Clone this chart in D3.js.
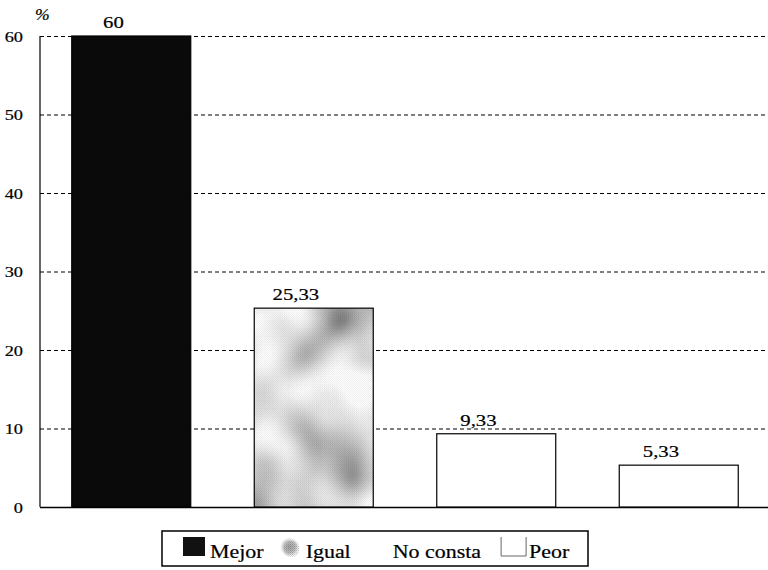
<!DOCTYPE html>
<html>
<head>
<meta charset="utf-8">
<script src="https://cdn.jsdelivr.net/npm/d3@7"></script>
<style>
  html, body { margin: 0; padding: 0; background: #fff; }
  svg { display: block; }
  text { font-family: "Liberation Serif", "Times New Roman", serif; fill: #000; stroke: #000; stroke-width: 0.2px; }
</style>
</head>
<body>
<svg id="chart" width="768" height="570"></svg>
<script>
// Categories, percentages and axis ticks
const categories = ["Mejor", "Igual", "No consta", "Peor"];
const values = [60, 25.33, 9.33, 5.33];
const valueLabels = ["60", "25,33", "9,33", "5,33"];
const yTicks = [0, 10, 20, 30, 40, 50, 60];
const legendLabels = ["Mejor", "Igual", "No consta", "Peor"];

const plotLeft = 40, plotRight = 768, plotTop = 36, plotBottom = 507;
const stretch = 1.22; // horizontal glyph widening used for all text

const svg = d3.select("#chart");
const defs = svg.append("defs");

// fine dither used for the mottled fill
const dither = defs.append("pattern").attr("id", "dither")
  .attr("patternUnits", "userSpaceOnUse").attr("width", 2).attr("height", 2);
dither.append("rect").attr("width", 1).attr("height", 1).attr("fill", "#444");
dither.append("rect").attr("x", 1).attr("y", 1).attr("width", 1).attr("height", 1).attr("fill", "#888");

// cloudy grey noise for the "Igual" fill
const cloud = defs.append("filter").attr("id", "cloud")
  .attr("x", 0).attr("y", 0).attr("width", 1).attr("height", 1);
cloud.append("feTurbulence").attr("type", "fractalNoise")
  .attr("baseFrequency", "0.014").attr("numOctaves", 2).attr("seed", 11).attr("result", "n");
cloud.append("feColorMatrix").attr("in", "n").attr("type", "matrix")
  .attr("values", "-1.7 0 0 0 1.6  -1.7 0 0 0 1.6  -1.7 0 0 0 1.6  0 0 0 0 1");

const softGrad = defs.append("radialGradient").attr("id", "soft");
softGrad.append("stop").attr("offset", "0%").attr("stop-color", "#a0a0a0");
softGrad.append("stop").attr("offset", "60%").attr("stop-color", "#c0c0c0");
softGrad.append("stop").attr("offset", "100%").attr("stop-color", "#e0e0e0").attr("stop-opacity", 0);

const y = d3.scaleLinear().domain([0, 60]).range([plotBottom, plotTop]);
const x = d3.scaleBand().domain(categories).range([plotLeft, 770])
  .paddingInner(0.348).paddingOuter(0.174);

// dashed horizontal grid with the tick labels
const yAxis = svg.append("g").attr("transform", `translate(${plotLeft},0)`)
  .call(d3.axisLeft(y).tickValues(yTicks).tickSize(-(plotRight - plotLeft)).tickPadding(0));
yAxis.select(".domain").remove();
yAxis.selectAll(".tick line")
  .attr("stroke", "#000").attr("stroke-width", 1).attr("stroke-dasharray", "4,3")
  .filter(d => d === 0).remove();
yAxis.selectAll(".tick text")
  .attr("x", null).attr("dy", null)
  .attr("transform", `translate(-17,5) scale(${stretch},1)`)
  .style("font-family", "Liberation Serif, serif")
  .style("font-size", "15px")
  .attr("fill", "#000")
  .attr("text-anchor", "end");

// axis lines
svg.append("line").attr("x1", plotLeft).attr("x2", plotLeft).attr("y1", plotTop).attr("y2", plotBottom)
  .attr("stroke", "#000").attr("stroke-width", 1.2);
svg.append("g").attr("transform", `translate(0,${plotBottom})`)
  .call(d3.axisBottom(x).tickSize(0).tickFormat(""))
  .call(g => g.select(".domain").attr("d", `M${plotLeft},0.5H${plotRight}`).attr("stroke", "#000").attr("stroke-width", 1.3));

// mottled texture
function mottle(g, id, bx, by, bw, bh) {
  const clip = defs.append("clipPath").attr("id", id);
  clip.append("rect").attr("x", bx).attr("y", by).attr("width", bw).attr("height", bh);
  const t = g.append("g").attr("clip-path", `url(#${id})`);
  t.append("rect").attr("x", bx).attr("y", by).attr("width", bw).attr("height", bh)
    .attr("filter", "url(#cloud)");
  t.append("rect").attr("x", bx).attr("y", by).attr("width", bw).attr("height", bh)
    .attr("fill", "url(#dither)").attr("opacity", 0.12);
}

// bars
const fills = { "Mejor": "#0a0a0a", "No consta": "#fff", "Peor": "#fff" };
const bars = svg.append("g");
categories.forEach((c, i) => {
  const bx = x(c), bw = x.bandwidth(), by = y(values[i]), bh = plotBottom - y(values[i]);
  if (c === "Igual") {
    mottle(bars, "clipIgual", bx, by, bw, bh);
    bars.append("rect").attr("x", bx).attr("y", by).attr("width", bw).attr("height", bh)
      .attr("fill", "none").attr("stroke", "#000").attr("stroke-width", 1.2);
  } else {
    bars.append("rect").attr("x", bx).attr("y", by).attr("width", bw).attr("height", bh)
      .attr("fill", fills[c]).attr("stroke", "#000").attr("stroke-width", 1.2);
  }
});

// value labels; lifted above a grid line when they would sit on it
const labels = svg.append("g");
values.forEach((v, i) => {
  const c = categories[i];
  let base = y(v) - 8;
  const hit = yTicks.map(t => y(t)).find(gy => gy > base - 14 && gy < base + 2 && gy !== y(v));
  if (hit !== undefined) base = hit - 14;
  const cx = x(c) + x.bandwidth() / 2 - 0.15 * x.bandwidth();
  labels.append("text")
    .attr("transform", `translate(${cx},${base}) scale(${stretch},1)`)
    .attr("text-anchor", "middle")
    .style("font-size", "17px")
    .text(valueLabels[i]);
});

// unit mark
svg.append("text").attr("transform", `translate(35,20) scale(1.1,1)`)
  .style("font-size", "16px").style("font-style", "italic").text("%");

// legend
const lg = svg.append("g");
lg.append("rect").attr("x", 162).attr("y", 531).attr("width", 426).attr("height", 35)
  .attr("fill", "#fff").attr("stroke", "#000").attr("stroke-width", 1.5);
let lx = 183;
legendLabels.forEach((name) => {
  const sx = lx, sy = 537, sw = 22, sh = 19;
  let tx = sx + sw + 5;
  if (name === "Mejor") {
    lg.append("rect").attr("x", sx).attr("y", sy).attr("width", sw).attr("height", sh).attr("fill", "#111");
  } else if (name === "Igual") {
    lg.append("ellipse").attr("cx", sx + 11).attr("cy", sy + 10).attr("rx", 10).attr("ry", 10)
      .attr("fill", "url(#soft)");
    lg.append("ellipse").attr("cx", sx + 13).attr("cy", sy + 12).attr("rx", 8).attr("ry", 8)
      .attr("fill", "url(#dither)").attr("opacity", 0.3);
  } else if (name === "Peor") {
    lg.append("path").attr("d", `M${sx + 5},${sy}V${sy + sh}H${sx + 30}V${sy}`)
      .attr("fill", "none").attr("stroke", "#666").attr("stroke-width", 1);
    tx = sx + 33;
  }
  const t = lg.append("text")
    .attr("transform", `translate(${tx},558) scale(${stretch},1)`)
    .style("font-size", "18px").text(name);
  lx = tx + t.node().getComputedTextLength() * stretch + 15;
});
</script>
</body>
</html>
